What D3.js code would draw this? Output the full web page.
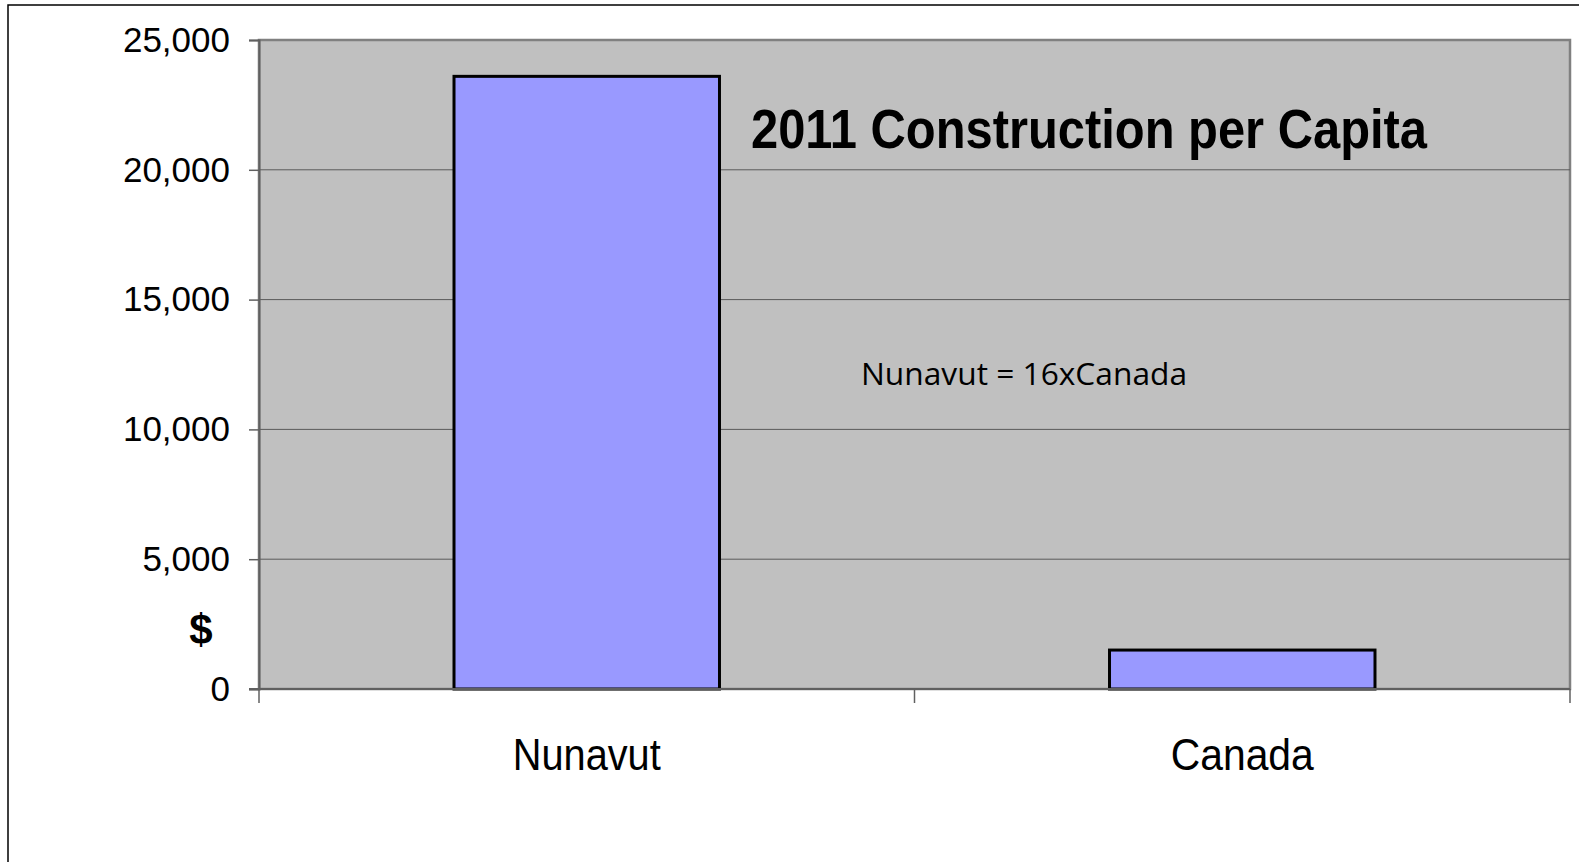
<!DOCTYPE html>
<html>
<head>
<meta charset="utf-8">
<script src="https://cdn.jsdelivr.net/npm/d3@7"></script>
<style>
  body { margin: 0; background: #fff; }
  svg { display: block; }
</style>
</head>
<body>
<svg id="chart"></svg>
<script>
var categories = ["Nunavut", "Canada"];
var values = [23600, 1500];
var yTicks = [0, 5000, 10000, 15000, 20000, 25000];
var titleText = "2011 Construction per Capita";
var noteText = "Nunavut = 16xCanada";

var W = 1579, H = 862;
var plot = { left: 259, right: 1570, top: 40, bottom: 689 };

var svg = d3.select("#chart").attr("width", W).attr("height", H);

// outer frame (only top and left edges fall inside the picture)
svg.append("rect")
    .attr("x", 8).attr("y", 5)
    .attr("width", 1700).attr("height", 1000)
    .attr("fill", "none").attr("stroke", "#000").attr("stroke-width", 1.5);

var x = d3.scaleBand()
    .domain(categories)
    .range([plot.left, plot.right])
    .paddingInner(0.595)
    .paddingOuter(0.2975);

var y = d3.scaleLinear()
    .domain([0, 25000])
    .range([plot.bottom, plot.top]);

// plot area
svg.append("rect")
    .attr("x", plot.left).attr("y", plot.top)
    .attr("width", plot.right - plot.left).attr("height", plot.bottom - plot.top)
    .attr("fill", "#c0c0c0").attr("stroke", "#808080").attr("stroke-width", 2.5);

// gridlines
svg.append("g").selectAll("line")
    .data(yTicks.filter(function(d){ return d > 0 && d < 25000; }))
    .enter().append("line")
    .attr("x1", plot.left).attr("x2", plot.right)
    .attr("y1", function(d){ return y(d); }).attr("y2", function(d){ return y(d); })
    .attr("stroke", "#5a5a5a").attr("stroke-width", 1);

// bars
svg.append("g").selectAll("rect")
    .data(values)
    .enter().append("rect")
    .attr("x", function(d, i){ return x(categories[i]); })
    .attr("y", function(d){ return y(d); })
    .attr("width", x.bandwidth())
    .attr("height", function(d){ return y(0) - y(d); })
    .attr("fill", "#9999ff").attr("stroke", "#000").attr("stroke-width", 3);

// y axis
var yAxis = svg.append("g")
    .attr("transform", "translate(" + plot.left + ",0)")
    .call(d3.axisLeft(y).tickValues(yTicks).tickSize(10).tickPadding(19).tickFormat(d3.format(",")));
yAxis.select(".domain").attr("stroke", "#606060").attr("stroke-width", 2);
yAxis.selectAll(".tick line").attr("stroke", "#606060").attr("stroke-width", 1.5);
yAxis.selectAll(".tick text")
    .attr("font-family", "Liberation Sans, Arial, sans-serif")
    .attr("font-size", 35).attr("fill", "#000");

// x axis
svg.append("line")
    .attr("x1", plot.left - 10).attr("x2", plot.right)
    .attr("y1", plot.bottom).attr("y2", plot.bottom)
    .attr("stroke", "#606060").attr("stroke-width", 2);
var bounds = [plot.left].concat(categories.map(function(c){ return x(c) - x.step() * x.paddingInner() / 2 + x.step(); }));
svg.append("g").selectAll("line")
    .data(bounds)
    .enter().append("line")
    .attr("x1", function(d){ return d; }).attr("x2", function(d){ return d; })
    .attr("y1", plot.bottom).attr("y2", plot.bottom + 14)
    .attr("stroke", "#606060").attr("stroke-width", 1.5);

var xAxis = svg.append("g")
    .attr("transform", "translate(0," + plot.bottom + ")")
    .call(d3.axisBottom(x).tickSize(0).tickPadding(0));
xAxis.select(".domain").remove();
xAxis.selectAll(".tick text")
    .attr("y", 81).attr("dy", 0)
    .attr("font-family", "Liberation Sans, Arial, sans-serif")
    .attr("font-size", 45).attr("fill", "#000")
    .attr("textLength", function(d){ return d === "Nunavut" ? 148 : 143; })
    .attr("lengthAdjust", "spacingAndGlyphs");

// unit label
svg.append("text")
    .attr("x", 201).attr("y", 644)
    .attr("text-anchor", "middle")
    .attr("font-family", "Liberation Sans, Arial, sans-serif")
    .attr("font-weight", "bold").attr("font-size", 42)
    .text("$");

// title
svg.append("text")
    .attr("x", 751).attr("y", 148)
    .attr("font-family", "Liberation Sans, Arial, sans-serif")
    .attr("font-weight", "bold").attr("font-size", 55)
    .attr("textLength", 676).attr("lengthAdjust", "spacingAndGlyphs")
    .text(titleText);

// note
svg.append("text")
    .attr("x", 861).attr("y", 385)
    .attr("font-family", "Open Sans, Noto Sans, sans-serif")
    .attr("font-size", 31)
    .attr("textLength", 326).attr("lengthAdjust", "spacingAndGlyphs")
    .text(noteText);
</script>
</body>
</html>
